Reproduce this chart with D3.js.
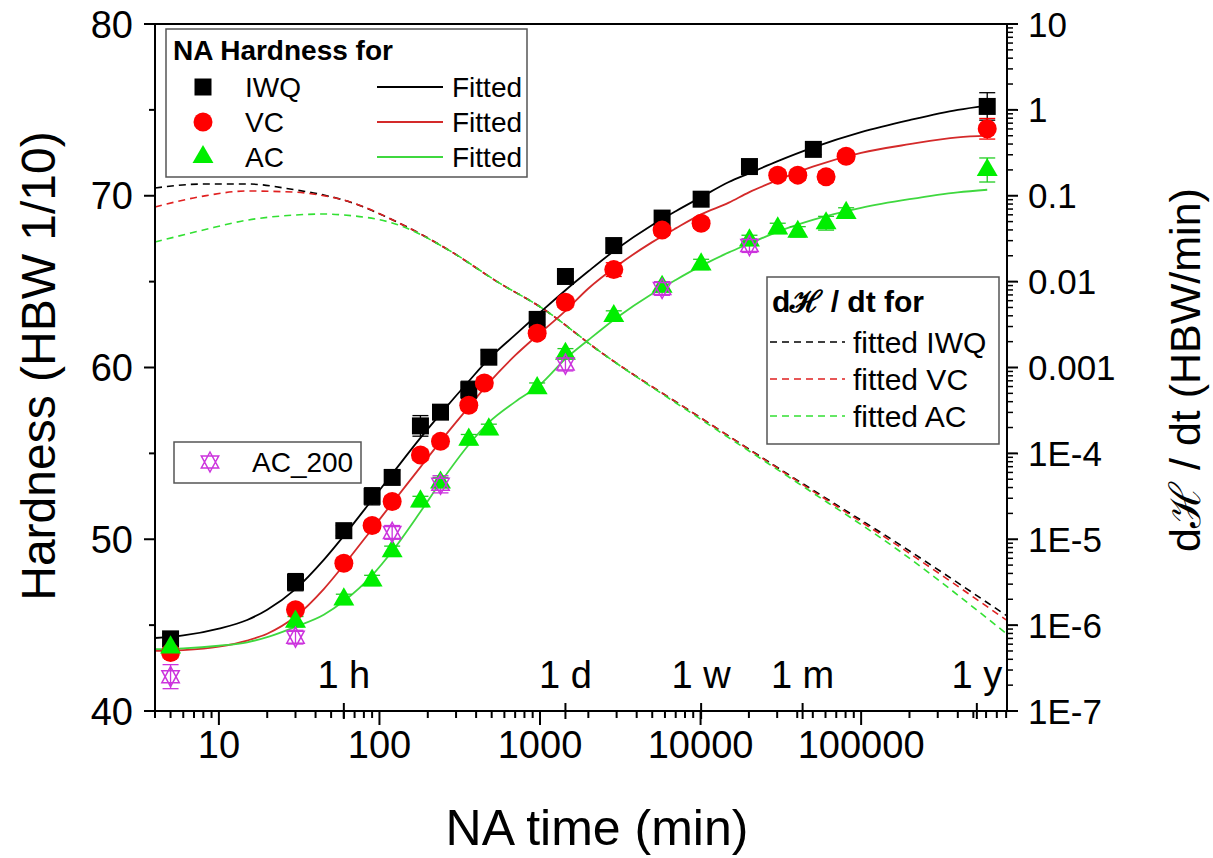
<!DOCTYPE html>
<html><head><meta charset="utf-8">
<script src="https://cdn.jsdelivr.net/npm/d3@7"></script>
<style>body{margin:0;background:#fff} svg text{font-family:Arial,"Liberation Sans",sans-serif}</style>
</head><body>
<svg id="c" width="1213" height="858"></svg>
<script>
// ---------- data ----------
const IWQ_t = [5, 30, 60, 90, 120, 180, 240, 360, 480, 960, 1440, 2880, 5760, 10080, 20160, 50400, 610000];
const IWQ_H = [44.2, 47.5, 50.5, 52.5, 53.6, 56.6, 57.4, 58.7, 60.6, 62.8, 65.3, 67.1, 68.7, 69.8, 71.7, 72.7, 75.2];
const IWQ_err = [0.3, 0.5, 0.3, 0.5, 0.4, 0.6, 0.3, 0.5, 0.4, 0.3, 0.3, 0.4, 0.3, 0.3, 0.3, 0.3, 0.8];

const VC_t = [5, 30, 60, 90, 120, 180, 240, 360, 450, 960, 1440, 2880, 5760, 10080, 30240, 40320, 60480, 80640, 610000];
const VC_H = [43.4, 45.9, 48.6, 50.8, 52.2, 54.9, 55.7, 57.8, 59.1, 62.0, 63.8, 65.7, 68.0, 68.4, 71.2, 71.2, 71.1, 72.3, 73.9];
const VC_err = [0.3, 0.3, 0.3, 0.3, 0.3, 0.3, 0.3, 0.3, 0.3, 0.3, 0.3, 0.4, 0.3, 0.3, 0.3, 0.3, 0.3, 0.3, 0.6];

const AC_t = [5, 30, 60, 90, 120, 180, 240, 360, 480, 960, 1440, 2880, 5760, 10080, 20160, 30240, 40320, 60480, 80640, 610000];
const AC_H = [43.7, 45.2, 46.5, 47.6, 49.3, 52.2, 53.3, 55.8, 56.4, 58.8, 60.8, 63.0, 64.7, 66.0, 67.4, 68.1, 67.9, 68.4, 69.0, 71.5];
const AC_err = [0.3, 0.3, 0.3, 0.3, 0.3, 0.3, 0.3, 0.3, 0.3, 0.3, 0.3, 0.3, 0.3, 0.3, 0.3, 0.3, 0.3, 0.4, 0.3, 0.7];

const AC200_t = [5, 30, 120, 240, 1440, 5760, 20160];
const AC200_H = [42.0, 44.3, 50.4, 53.2, 60.2, 64.6, 67.1];
const AC200_err = [0.7, 0.4, 0.4, 0.5, 0.4, 0.4, 0.4];

// fitted hardness curves
const fit_t = [4, 6, 10, 15, 20, 30, 45, 60, 90, 120, 180, 240, 360, 480, 700, 1000, 1440, 2000, 3000, 5000, 7000, 10000, 15000, 20000, 30000, 50000, 100000, 200000, 400000, 610000];
const fitIWQ = [44.25, 44.4, 44.8, 45.3, 45.9, 47.1, 48.8, 50.2, 52.3, 53.8, 55.9, 57.3, 59.2, 60.5, 61.9, 63.2, 64.5, 65.6, 66.9, 68.3, 69.1, 69.9, 70.8, 71.3, 72.0, 72.8, 73.7, 74.4, 75.0, 75.25];
const fitVC  = [43.5, 43.55, 43.75, 44.1, 44.5, 45.5, 47.1, 48.5, 50.6, 52.1, 54.2, 55.7, 57.7, 59.1, 60.7, 62.0, 63.3, 64.6, 65.9, 67.3, 68.1, 68.9, 69.6, 70.2, 70.9, 71.7, 72.5, 73.0, 73.4, 73.5];
const fitAC  = [43.6, 43.65, 43.8, 44.0, 44.3, 44.9, 45.6, 46.4, 47.9, 49.3, 51.6, 53.3, 55.5, 56.8, 58.0, 59.0, 60.5, 61.6, 62.9, 64.3, 65.1, 65.9, 66.7, 67.2, 67.9, 68.6, 69.3, 69.8, 70.2, 70.35];

// fitted dH/dt curves
const d_t = [4, 8, 15, 30, 45, 60, 130, 270, 560, 1000, 2400, 10000, 42000, 175000, 800000];
const dIWQ = [0.123, 0.137, 0.137, 0.117, 0.102, 0.089, 0.049, 0.0233, 0.0096, 0.0051, 0.0015, 2.6e-4, 4.6e-5, 8.6e-6, 1.3e-6];
const dVC  = [0.074, 0.099, 0.1135, 0.11, 0.1, 0.089, 0.049, 0.0233, 0.0096, 0.0051, 0.0015, 2.6e-4, 4.5e-5, 8.1e-6, 1.15e-6];
const dAC  = [0.0289, 0.0399, 0.052, 0.0597, 0.0613, 0.0597, 0.046, 0.0233, 0.0096, 0.0051, 0.0015, 2.5e-4, 4.3e-5, 7.2e-6, 8.0e-7];

const xMajor = [10, 100, 1000, 10000, 100000];
const xMajorLabels = ["10", "100", "1000", "10000", "100000"];
const timeMarks = [60, 1440, 10080, 43200, 525600];
const timeLabels = ["1 h", "1 d", "1 w", "1 m", "1 y"];
const yTicks = [40, 50, 60, 70, 80];
const y2Ticks = [10, 1, 0.1, 0.01, 0.001, 1e-4, 1e-5, 1e-6, 1e-7];
const y2Labels = ["10", "1", "0.1", "0.01", "0.001", "1E-4", "1E-5", "1E-6", "1E-7"];

// ---------- drawing ----------
const svg = d3.select("#c");
const L = 155, R = 1007, T = 24, B = 711;
const x = d3.scaleLog().domain([4, 8.1e5]).range([L, R]);
const y = d3.scaleLinear().domain([40, 80]).range([B, T]);
const y2 = d3.scaleLog().domain([1e-7, 10]).range([B, T]);

const cBlack = "#000", cRed = "#ff0000", cGreen = "#00ee00", cMag = "#cc33dd";
const lRed = "#d42a2a", lGreen = "#3fd83f";

// dashed derivative curves
const dline = (arr) => d3.line().x((d, i) => x(d_t[i])).y(d => y2(d)).curve(d3.curveMonotoneX)(arr);
[[dIWQ, "#000"], [dVC, "#e02020"], [dAC, "#33e033"]].forEach(([a, c]) => {
  svg.append("path").attr("d", dline(a)).attr("fill", "none").attr("stroke", c)
    .attr("stroke-width", 1.6).attr("stroke-dasharray", "7,5");
});

// fitted hardness curves
const fline = (arr) => d3.line().x((d, i) => x(fit_t[i])).y(d => y(d)).curve(d3.curveMonotoneX)(arr);
[[fitIWQ, "#000"], [fitVC, lRed], [fitAC, lGreen]].forEach(([a, c]) => {
  svg.append("path").attr("d", fline(a)).attr("fill", "none").attr("stroke", c).attr("stroke-width", 1.8);
});

// error bars
function errBars(ts, hs, es, col) {
  const g = svg.append("g").attr("stroke", col).attr("stroke-width", 1.3);
  ts.forEach((t, i) => {
    const cx = x(t), y0 = y(hs[i] - es[i]), y1 = y(hs[i] + es[i]);
    g.append("line").attr("x1", cx).attr("x2", cx).attr("y1", y0).attr("y2", y1);
    g.append("line").attr("x1", cx - 8).attr("x2", cx + 8).attr("y1", y0).attr("y2", y0);
    g.append("line").attr("x1", cx - 8).attr("x2", cx + 8).attr("y1", y1).attr("y2", y1);
  });
}
errBars(IWQ_t, IWQ_H, IWQ_err, "#000");
errBars(VC_t, VC_H, VC_err, cRed);
errBars(AC_t, AC_H, AC_err, "#22cc22");
errBars(AC200_t, AC200_H, AC200_err, cMag);

// markers
const sq = d3.symbol().type(d3.symbolSquare).size(17 * 17);
const ci = d3.symbol().type(d3.symbolCircle).size(Math.PI * 9.5 * 9.5);
const tr = d3.symbol().type(d3.symbolTriangle).size(190);
function ac200Path(s) {
  const h = s;
  return `M0,${-h}L${h * 0.87},${h * 0.6}L${-h * 0.87},${h * 0.6}Z M0,${h}L${h * 0.87},${-h * 0.6}L${-h * 0.87},${-h * 0.6}Z`;
}
svg.append("g").selectAll("path").data(IWQ_t).join("path")
  .attr("d", sq).attr("transform", (d, i) => `translate(${x(d)},${y(IWQ_H[i])})`).attr("fill", cBlack);
svg.append("g").selectAll("path").data(VC_t).join("path")
  .attr("d", ci).attr("transform", (d, i) => `translate(${x(d)},${y(VC_H[i])})`).attr("fill", cRed);
svg.append("g").selectAll("path").data(AC_t).join("path")
  .attr("d", tr).attr("transform", (d, i) => `translate(${x(d)},${y(AC_H[i])})`).attr("fill", cGreen);
svg.append("g").selectAll("path").data(AC200_t).join("path")
  .attr("d", ac200Path(10)).attr("transform", (d, i) => `translate(${x(d)},${y(AC200_H[i])})`)
  .attr("fill", "none").attr("stroke", cMag).attr("stroke-width", 1.5);

// ---------- axes ----------
const ax = svg.append("g").attr("stroke", "#000");
ax.append("rect").attr("x", L).attr("y", T).attr("width", R - L).attr("height", B - T)
  .attr("fill", "none").attr("stroke-width", 2);

const xMinor = [];
for (let e = 0; e <= 5; e++) for (let m = 1; m <= 9; m++) {
  const v = m * Math.pow(10, e);
  if (v >= 4 && v <= 8.1e5 && !xMajor.includes(v)) xMinor.push(v);
}
ax.selectAll(".xmin").data(xMinor).join("line").attr("x1", d => x(d)).attr("x2", d => x(d))
  .attr("y1", B).attr("y2", B + 7).attr("stroke-width", 2);
ax.selectAll(".xmaj").data(xMajor).join("line").attr("x1", d => x(d)).attr("x2", d => x(d))
  .attr("y1", B).attr("y2", B + 14).attr("stroke-width", 2);
ax.selectAll(".xtm").data(timeMarks).join("line").attr("x1", d => x(d)).attr("x2", d => x(d))
  .attr("y1", B - 8).attr("y2", B + 8).attr("stroke-width", 2);

const yMinor = [45, 55, 65, 75];
ax.selectAll(".ymaj").data(yTicks).join("line").attr("x1", L - 11).attr("x2", L)
  .attr("y1", d => y(d)).attr("y2", d => y(d)).attr("stroke-width", 2);
ax.selectAll(".ymin").data(yMinor).join("line").attr("x1", L - 6).attr("x2", L)
  .attr("y1", d => y(d)).attr("y2", d => y(d)).attr("stroke-width", 2);

const y2Minor = [];
for (let e = -7; e < 1; e++) for (let m = 2; m <= 9; m++) y2Minor.push(m * Math.pow(10, e));
ax.selectAll(".y2maj").data(y2Ticks).join("line").attr("x1", R).attr("x2", R + 11)
  .attr("y1", d => y2(d)).attr("y2", d => y2(d)).attr("stroke-width", 2);
ax.selectAll(".y2min").data(y2Minor).join("line").attr("x1", R).attr("x2", R + 6)
  .attr("y1", d => y2(d)).attr("y2", d => y2(d)).attr("stroke-width", 1.5);

const tl = svg.append("g").attr("fill", "#000");
tl.selectAll(".xl").data(xMajor).join("text").attr("x", d => x(d)).attr("y", 758)
  .attr("text-anchor", "middle").attr("font-size", 38).text((d, i) => xMajorLabels[i]);
tl.selectAll(".tl").data(timeMarks).join("text").attr("x", d => x(d)).attr("y", 688)
  .attr("text-anchor", "middle").attr("font-size", 38).text((d, i) => timeLabels[i]);
tl.selectAll(".yl").data(yTicks).join("text").attr("x", 133).attr("y", d => y(d))
  .attr("dy", "0.36em").attr("text-anchor", "end").attr("font-size", 38).text(d => d);
tl.selectAll(".y2l").data(y2Ticks).join("text").attr("x", 1028).attr("y", d => y2(d))
  .attr("dy", "0.36em").attr("text-anchor", "start").attr("font-size", 35).text((d, i) => y2Labels[i]);

svg.append("text").attr("x", 597).attr("y", 845).attr("text-anchor", "middle").attr("font-size", 50)
  .text("NA time (min)");
svg.append("text").attr("transform", "translate(38,366) rotate(-90)").attr("text-anchor", "middle")
  .attr("dominant-baseline", "central").attr("font-size", 48).text("Hardness (HBW 1/10)");
svg.append("text").attr("transform", "translate(1185,370) rotate(-90)").attr("text-anchor", "middle")
  .attr("dominant-baseline", "central").attr("font-size", 43).text("dℋ / dt (HBW/min)");

// ---------- legends ----------
const lg = svg.append("g");
lg.append("rect").attr("x", 166).attr("y", 29).attr("width", 361).attr("height", 148)
  .attr("fill", "#fff").attr("stroke", "#555").attr("stroke-width", 1.5);
lg.append("text").attr("x", 173).attr("y", 60).attr("font-size", 28).attr("font-weight", "bold").text("NA Hardness for");
const legRows = [["IWQ", sq, cBlack, "#000"], ["VC", ci, cRed, lRed], ["AC", tr, cGreen, lGreen]];
legRows.forEach(([name, sym, fc, lc], i) => {
  const yy = 87 + i * 35;
  lg.append("path").attr("d", sym).attr("transform", `translate(203,${yy})`).attr("fill", fc);
  lg.append("text").attr("x", 245).attr("y", yy).attr("dy", "0.36em").attr("font-size", 28).text(name);
  lg.append("line").attr("x1", 377).attr("x2", 443).attr("y1", yy).attr("y2", yy).attr("stroke", lc).attr("stroke-width", 1.8);
  lg.append("text").attr("x", 452).attr("y", yy).attr("dy", "0.36em").attr("font-size", 28).text("Fitted");
});

const lg2 = svg.append("g");
lg2.append("rect").attr("x", 767).attr("y", 277).attr("width", 232).attr("height", 167)
  .attr("fill", "#fff").attr("stroke", "#555").attr("stroke-width", 1.5);
lg2.append("text").attr("x", 772).attr("y", 312).attr("font-size", 30).attr("font-weight", "bold").text("dℋ / dt for");
[["fitted IWQ", "#000"], ["fitted VC", "#e02020"], ["fitted AC", "#33e033"]].forEach(([name, c], i) => {
  const yy = 342 + i * 37;
  lg2.append("line").attr("x1", 770).attr("x2", 845).attr("y1", yy).attr("y2", yy).attr("stroke", c)
    .attr("stroke-width", 1.6).attr("stroke-dasharray", "7,5");
  lg2.append("text").attr("x", 853).attr("y", yy).attr("dy", "0.36em").attr("font-size", 30).text(name);
});

const lg3 = svg.append("g");
lg3.append("rect").attr("x", 174).attr("y", 442).attr("width", 187).attr("height", 41)
  .attr("fill", "#fff").attr("stroke", "#555").attr("stroke-width", 1.5);
lg3.append("path").attr("d", ac200Path(10)).attr("transform", "translate(210,462)")
  .attr("fill", "none").attr("stroke", cMag).attr("stroke-width", 1.5);
lg3.append("text").attr("x", 252).attr("y", 462).attr("dy", "0.36em").attr("font-size", 28).text("AC_200");
</script>
</body></html>
